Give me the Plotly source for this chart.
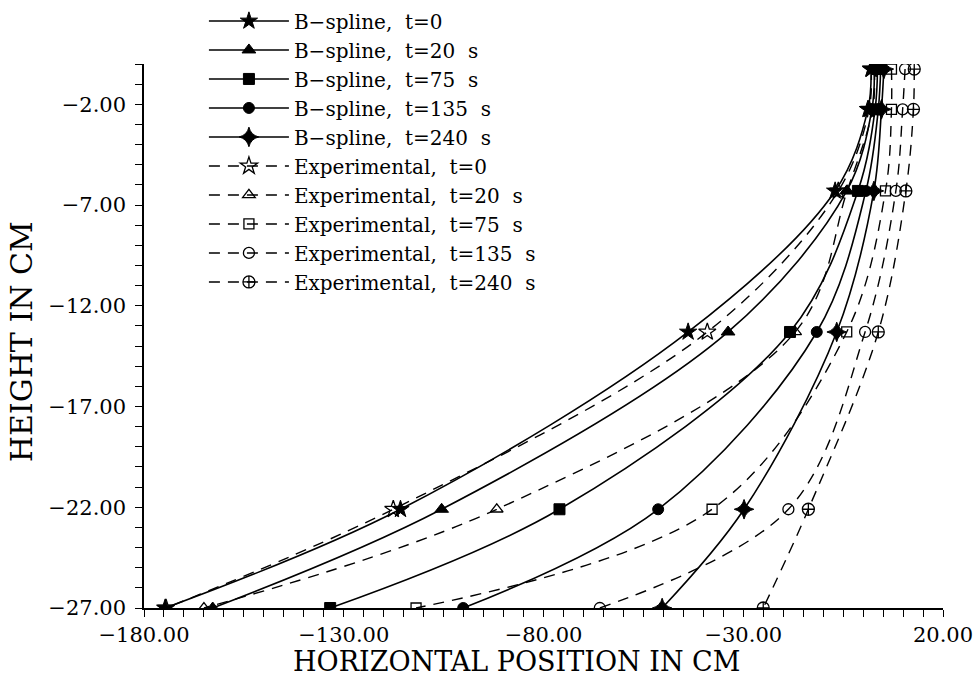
import plotly.graph_objects as go

# Heights (cm) of the measurement rows
heights = [-0.25, -2.25, -6.3, -13.3, -22.1, -27.0]

# B-spline horizontal positions (cm)
bs_t0 = [2.0, 1.2, -7.0, -43.8, -115.8, -174.7]
bs_t20 = [2.8, 2.2, -4.1, -33.8, -105.5, -162.8]
bs_t75 = [3.6, 3.0, -1.3, -18.3, -76.0, -133.4]
bs_t135 = [4.4, 3.8, 0.7, -11.6, -51.3, -100.1]
bs_t240 = [5.2, 4.6, 2.7, -6.6, -29.8, -50.3]

# Experimental horizontal positions (cm)
ex_t0 = [2.0, 1.5, -6.2, -39.0, -117.6, -174.5]
ex_t20 = [2.8, 2.4, -4.0, -17.0, -91.7, -165.0]
ex_t75 = [7.1, 7.1, 5.6, -4.1, -37.8, -111.9]
ex_t135 = [10.5, 9.9, 8.2, 0.5, -18.7, -65.9]
ex_t240 = [12.8, 12.6, 10.7, 3.8, -13.7, -25.0]

bs_names = ["B\u2212spline,  t=0", "B\u2212spline,  t=20  s", "B\u2212spline,  t=75  s",
            "B\u2212spline,  t=135  s", "B\u2212spline,  t=240  s"]
ex_names = ["Experimental,  t=0", "Experimental,  t=20  s", "Experimental,  t=75  s",
            "Experimental,  t=135  s", "Experimental,  t=240  s"]

bs_series = [bs_t0, bs_t20, bs_t75, bs_t135, bs_t240]
ex_series = [ex_t0, ex_t20, ex_t75, ex_t135, ex_t240]
bs_symbols = ["star", "triangle-up", "square", "circle", "star-diamond"]
ex_symbols = ["star-open", "triangle-up-open", "square-open", "circle-open", "circle-cross-open"]
bs_sizes = [13, 12, 11, 11, 14]
ex_sizes = [13, 11, 10, 11, 12]

FONT = "DejaVu Serif"
fig = go.Figure()

for xs, name, sym, sz in zip(bs_series, bs_names, bs_symbols, bs_sizes):
    fig.add_trace(go.Scatter(
        x=xs, y=heights, name=name, mode="lines+markers",
        line=dict(color="black", width=1.6, shape="spline", smoothing=1.0),
        marker=dict(symbol=sym, size=sz, color="black", line=dict(color="black", width=1)),
    ))

for xs, name, sym, sz in zip(ex_series, ex_names, ex_symbols, ex_sizes):
    fig.add_trace(go.Scatter(
        x=xs, y=heights, name=name, mode="lines+markers",
        line=dict(color="black", width=1.4, shape="spline", smoothing=1.0, dash="11px,8px"),
        marker=dict(symbol=sym, size=sz, color="black", line=dict(color="black", width=1.3)),
    ))

axis_common = dict(
    showline=True, linecolor="black", linewidth=1.5, showgrid=False, zeroline=False,
    ticks="outside", ticklen=7, tickwidth=1.3, tickcolor="black",
    tickfont=dict(family=FONT, size=21, color="black"), tickformat=".2f",
    ticklabeloverflow="allow",
)

fig.update_xaxes(range=[-180, 20], tick0=-180, dtick=50,
                 minor=dict(dtick=5, ticks="outside", ticklen=7, tickwidth=1.2, tickcolor="black"),
                 **axis_common)
fig.update_yaxes(range=[-27, 0], tick0=-27, dtick=5, ticklabelstandoff=5,
                 minor=dict(dtick=1, ticks="outside", ticklen=7, tickwidth=1.2, tickcolor="black"),
                 **axis_common)

fig.update_layout(
    width=973, height=677,
    margin=dict(l=144, r=30, t=64, b=69, autoexpand=False),
    plot_bgcolor="white", paper_bgcolor="white",
    font=dict(family=FONT, color="black"),
    showlegend=True,
    legend=dict(x=0.075, y=1.115, xanchor="left", yanchor="top",
                bgcolor="rgba(0,0,0,0)", borderwidth=0,
                font=dict(family=FONT, size=20, color="black"),
                itemwidth=80, tracegroupgap=0),
    annotations=[
        dict(text="HORIZONTAL POSITION IN CM", xref="paper", yref="paper",
             x=0.466, y=-0.0985, xanchor="center", yanchor="middle", showarrow=False,
             font=dict(family=FONT, size=27, color="black")),
        dict(text="HEIGHT IN CM", xref="paper", yref="paper", textangle=-90,
             x=-0.153, y=0.49, xanchor="center", yanchor="middle", showarrow=False,
             font=dict(family=FONT, size=30, color="black")),
    ],
)

fig.write_html("out.html")
